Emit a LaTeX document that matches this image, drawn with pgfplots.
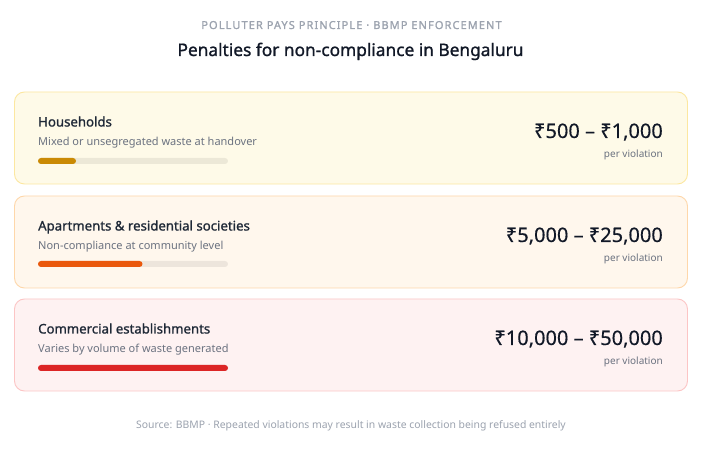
\documentclass[border=0pt]{standalone}
\usepackage{pgfplots}
\pgfplotsset{compat=1.18}
\usepackage{fontspec}
\setmainfont{Noto Sans}
\newfontfamily\semi[FakeBold=1.1]{Noto Sans}
\newfontfamily\medi[FakeBold=0.4]{Noto Sans}

\definecolor{hdr}{HTML}{9CA3AF}
\definecolor{ttl}{HTML}{111827}
\definecolor{ctl}{HTML}{1F2937}
\definecolor{sub}{HTML}{6B7280}
\definecolor{cafill}{HTML}{FEFAE8}
\definecolor{caline}{HTML}{FCE7A0}
\definecolor{cbfill}{HTML}{FFF7ED}
\definecolor{cbline}{HTML}{FED7AA}
\definecolor{ccfill}{HTML}{FEF2F2}
\definecolor{ccline}{HTML}{FCC5C5}
\definecolor{bara}{HTML}{CA8A04}
\definecolor{barb}{HTML}{EA580C}
\definecolor{barc}{HTML}{DC2626}

% card: top (px from top), fill, line, title, subtitle, price
\newcommand\card[6]{%
  \pgfmathsetmacro\t{469-#1}
  \draw[fill=#2, draw=#3, line width=0.9pt, rounded corners=10pt]
    (14.5,\t) rectangle (687.5,\t-92);
  \node[anchor=base west, inner sep=0pt, text=ctl, font=\fontsize{13.2}{15}\selectfont\semi]
    at (38,\t-34.5) {#4};
  \node[anchor=base west, inner sep=0pt, text=sub, font=\fontsize{11}{13}\selectfont]
    at (38,\t-54) {#5};
  \node[anchor=base east, inner sep=0pt, text=ttl, font=\fontsize{20}{24}\selectfont\medi]
    at (663,\t-46) {#6};
  \node[anchor=base east, inner sep=0pt, text=sub, font=\fontsize{10}{12}\selectfont]
    at (663,\t-65.5) {per violation};
}

\begin{document}
\begin{tikzpicture}[x=1pt,y=1pt]
\fill[white] (0,0) rectangle (705,469);

\node[anchor=base, inner sep=0pt, text=hdr,
  font=\fontsize{11}{13}\selectfont\semi\addfontfeature{LetterSpace=10}]
  at (351.5,440) {POLLUTER PAYS PRINCIPLE · BBMP ENFORCEMENT};
\node[anchor=base, inner sep=0pt, text=ttl, font=\fontsize{17.3}{20}\selectfont\semi]
  at (350.5,413) {Penalties for non-compliance in Bengaluru};

\card{92}{cafill}{caline}{Households}{Mixed or unsegregated waste at handover}{₹500 – ₹1,000}
\card{196}{cbfill}{cbline}{Apartments \& residential societies}{Non-compliance at community level}{₹5,000 – ₹25,000}
\card{299}{ccfill}{ccline}{Commercial establishments}{Varies by volume of waste generated}{₹10,000 – ₹50,000}

\node[anchor=base, inner sep=0pt, text=hdr, font=\fontsize{10.4}{12}\selectfont]
  at (351,40.5) {Source: BBMP · Repeated violations may result in waste collection being refused entirely};

% severity bars (share of track filled)
\begin{axis}[at={(38pt,0pt)}, anchor=origin,
  width=190pt, height=469pt, scale only axis,
  xmin=0, xmax=100, ymin=0, ymax=469,
  hide axis, clip=false,
  xbar, bar width=6pt, bar shift=0pt]
\addplot[fill=black, fill opacity=0.07, draw=none, rounded corners=3pt]
  coordinates {(100,308) (100,205) (100,101)};
\addplot[fill=bara, draw=none, rounded corners=3pt] coordinates {(20,308)};
\addplot[fill=barb, draw=none, rounded corners=3pt] coordinates {(55,205)};
\addplot[fill=barc, draw=none, rounded corners=3pt] coordinates {(100,101)};
\end{axis}
\end{tikzpicture}
\end{document}
